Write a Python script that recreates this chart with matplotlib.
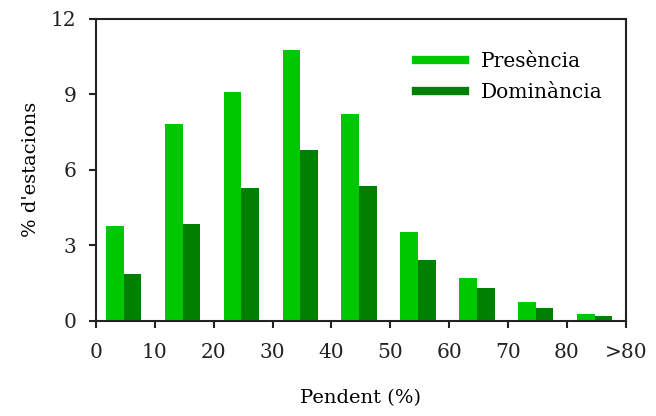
import matplotlib
matplotlib.use("Agg")
import matplotlib.pyplot as plt
import numpy as np
from matplotlib.lines import Line2D

# ================= DATA =================
bins = [0, 10, 20, 30, 40, 50, 60, 70, 80]
tick_labels = ["0", "10", "20", "30", "40", "50", "60", "70", "80", ">80"]
presencia = [3.75, 7.8, 9.07, 10.75, 8.2, 3.53, 1.71, 0.74, 0.28]
dominancia = [1.85, 3.84, 5.27, 6.77, 5.36, 2.42, 1.32, 0.52, 0.2]

C_PRES = "#00c800"
C_DOM = "#008000"

plt.rcParams["font.family"] = ["DejaVu Serif"]

fig = plt.figure(figsize=(6.56, 4.16), dpi=100)
ax = fig.add_axes([0.1463, 0.2284, 0.8077, 0.7271])

x = np.array(bins, dtype=float)
w = 3.0
ax.bar(x + 3.2, presencia, width=w, color=C_PRES, linewidth=0)
ax.bar(x + 6.2, dominancia, width=w, color=C_DOM, linewidth=0)

ax.set_xlim(0, 90)
ax.set_ylim(0, 12)
ax.set_xticks(np.arange(0, 91, 10))
ax.set_xticklabels(tick_labels)
ax.set_yticks([0, 3, 6, 9, 12])

for s in ax.spines.values():
    s.set_linewidth(1.5)
    s.set_color("#222222")

ax.tick_params(axis="both", direction="out", length=5, width=1.5,
               labelsize=14.5, colors="#222222")
ax.tick_params(axis="x", pad=11)
ax.tick_params(axis="y", pad=9)

ax.set_xlabel("Pendent (%)", fontsize=14, labelpad=19)
ax.set_ylabel("% d'estacions", fontsize=14, labelpad=8)

handles = [Line2D([0], [0], color=C_PRES, lw=6),
           Line2D([0], [0], color=C_DOM, lw=6)]
ax.legend(handles, ["Presència", "Dominància"], loc="upper right",
          bbox_to_anchor=(0.99, 0.95), frameon=False, fontsize=14.5,
          handlelength=2.4, handletextpad=0.8, labelspacing=0.62)

fig.savefig("out.png", dpi=100)
